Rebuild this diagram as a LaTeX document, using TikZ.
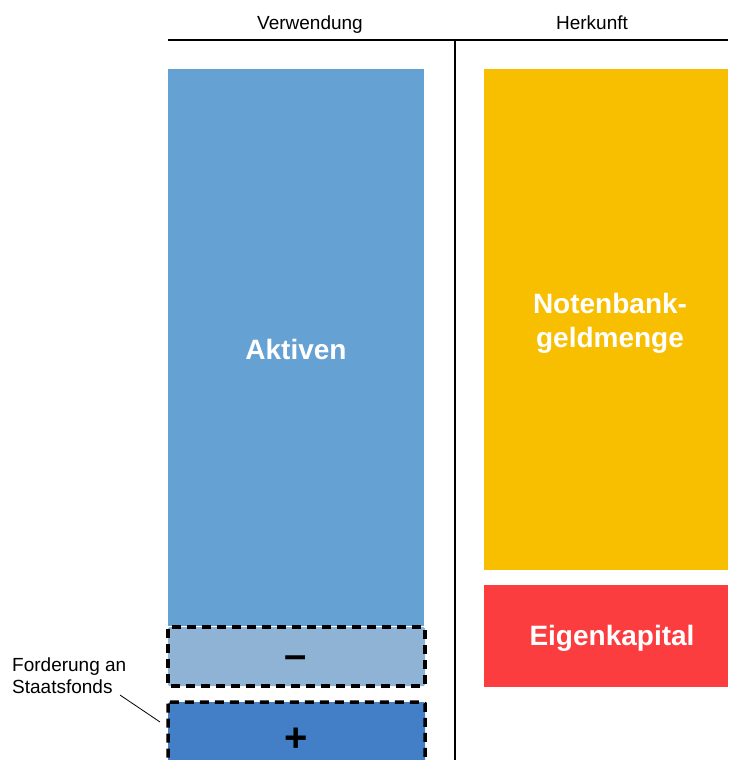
\documentclass[tikz,border=0pt]{standalone}
\usepackage{fontspec}
\setmainfont{Liberation Sans}
\definecolor{cAkt}{HTML}{65A1D3}
\definecolor{cNot}{HTML}{F8BE00}
\definecolor{cEig}{HTML}{FC3D3F}
\definecolor{cMin}{HTML}{8EB3D5}
\definecolor{cPlu}{HTML}{437FC6}
\begin{document}
\begin{tikzpicture}[x=1pt,y=-1pt,
  head/.style={font=\fontsize{19}{22}\selectfont, inner sep=0pt, anchor=base},
  big/.style={font=\fontsize{28}{34}\selectfont\bfseries, text=white, align=center, inner sep=0pt},
  sign/.style={font=\fontsize{40}{40}\selectfont\bfseries, inner sep=0pt},
  dashbox/.style={draw=black, line width=3.5pt, dash pattern=on 9pt off 6pt, rounded corners=1.5pt}]
\useasboundingbox (0,0) rectangle (728,760);
\node[head] (verw) at (310,30) {Verwendung};
\node[head] (herk) at (592,30) {Herkunft};
\coordinate (hl) at (168,40);
\coordinate (hr) at (728,40);
\coordinate (vt) at (455,40);
\coordinate (vb) at (455,760);
\draw[line width=1.6pt] (hl) -- (hr);
\draw[line width=1.6pt] (vt) -- (vb);
\fill[cAkt] (168,69) rectangle (424,626);
\node[big] (akt) at (296,349) {Aktiven};
\fill[cNot] (484,69) rectangle (728,570);
\node[big] (not) at (610,323) {Notenbank-\\geldmenge};
\fill[cEig] (484,585) rectangle (728,687);
\node[big] (eig) at (612,638) {Eigenkapital};
\path[fill=cMin, dashbox] (168,627) rectangle (425,686);
\node[sign] (minus) at (296,662) {–};
\path[fill=cPlu, dashbox] (168,702) rectangle (425,775);
\node[sign] (plus) at (296,740) {+};
\node[font=\fontsize{19}{22}\selectfont, align=left, anchor=north west, inner sep=0pt] (ford) at (12,658) {Forderung an\\Staatsfonds};
\coordinate (ls) at (120,695);
\coordinate (le) at (160,722);
\draw[line width=0.8pt] (ls) -- (le);
\end{tikzpicture}
\end{document}
